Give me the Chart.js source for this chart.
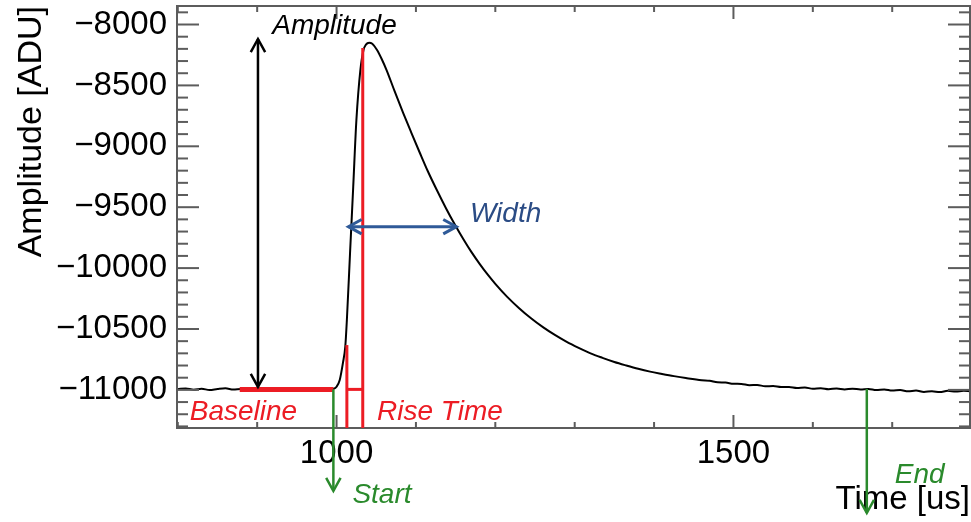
<!DOCTYPE html>
<html>
<head>
<meta charset="utf-8">
<script src="https://cdn.jsdelivr.net/npm/chart.js@4"></script>
<style>
  body { margin: 0; background: #fff; }
  #wrap { width: 971px; height: 522px; }
</style>
</head>
<body>
<div id="wrap"><canvas id="pulseChart" width="971" height="522"></canvas></div>
<script>
// waveform (time in us, amplitude in ADU)
const times = [
    800, 810, 820, 830, 840, 850, 860, 870, 880, 890,
    900, 910, 920, 930, 940, 950, 960, 970, 980, 990,
    996, 1000, 1004, 1008, 1011, 1013, 1017, 1021, 1025, 1030,
    1034, 1037, 1041, 1045, 1051, 1057, 1063, 1073, 1084, 1094,
    1105, 1115, 1126, 1138, 1149, 1160, 1170, 1180, 1190, 1200,
    1215, 1230, 1245, 1260, 1275, 1290, 1305, 1320, 1335, 1350,
    1365, 1380, 1395, 1410, 1425, 1440, 1460, 1470, 1480, 1490,
    1500, 1510, 1520, 1530, 1540, 1550, 1560, 1570, 1580, 1590,
    1600, 1610, 1620, 1630, 1640, 1650, 1660, 1670, 1680, 1690,
    1700, 1710, 1720, 1730, 1740, 1750, 1760, 1770, 1780, 1790, 1798
];
const amplitudes = [
    -10994, -10988, -10998, -10990, -11002, -10993, -10987, -10997, -10992, -11000,
    -10989, -10996, -10986, -10994, -10999, -10990, -10996, -10988, -10993, -10997,
    -10992, -10974, -10919, -10780, -10645, -10426, -9876, -9332, -8784, -8374,
    -8209, -8165, -8149, -8158, -8209, -8285, -8374, -8545, -8727, -8885,
    -9055, -9205, -9355, -9510, -9642, -9765, -9869, -9963, -10050, -10129,
    -10236, -10329, -10412, -10485, -10549, -10606, -10655, -10700, -10737, -10771,
    -10800, -10827, -10850, -10869, -10887, -10903, -10921, -10925, -10938, -10940,
    -10950, -10951, -10961, -10960, -10970, -10969, -10977, -10976, -10984, -10981,
    -10990, -10986, -10994, -10989, -10996, -10990, -10997, -10992, -11001, -10996,
    -11005, -11002, -11012, -11006, -11017, -11011, -11018, -11008, -11014, -11007, -11011
];
const xTickLabels = [1000, 1500];
const yTickLabels = [-8000, -8500, -9000, -9500, -10000, -10500, -11000];

// pulse features marked on the plot
const baselineLevel = -10996;
const baselineSpan = [878, 996];
const amplitudeTime = 901;
const amplitudeSpan = [-8119, -10976];
const riseTimes = [1013, 1033];
const riseTops = [-10632, -8193];
const widthLevel = -9660;
const widthSpan = [1015, 1151];
const startTime = 996;
const endTime = 1668;

const X_MIN = 799, X_MAX = 1798;
const Y_MIN = -11313, Y_MAX = -7848;
const FONT = '"Liberation Sans", Arial, Helvetica, sans-serif';
const RED = '#ec1c24';
const GREEN = '#2a8a2c';
const BLUE = '#2f5a98';

// tick marks every 100 inside the range
function tickValues(min, max) {
    const out = [];
    for (let v = Math.ceil(min / 100) * 100; v <= max; v += 100) out.push({ value: v });
    return out;
}

function line(ctx, x1, y1, x2, y2) {
    ctx.beginPath();
    ctx.moveTo(x1, y1);
    ctx.lineTo(x2, y2);
    ctx.stroke();
}

function head(ctx, tx, ty, dx, dy) {
    const ang = Math.atan2(dy, dx);
    const size = 15;
    ctx.beginPath();
    ctx.moveTo(tx - size * Math.cos(ang - 0.5), ty - size * Math.sin(ang - 0.5));
    ctx.lineTo(tx, ty);
    ctx.lineTo(tx - size * Math.cos(ang + 0.5), ty - size * Math.sin(ang + 0.5));
    ctx.stroke();
}

function label(ctx, text, x, y, color) {
    ctx.font = 'italic 28px ' + FONT;
    ctx.fillStyle = color;
    ctx.textAlign = 'left';
    ctx.textBaseline = 'alphabetic';
    ctx.fillText(text, x, y);
}

// ROOT style frame with ticks on all four sides, pointing inwards
const frameTicks = {
    id: 'frameTicks',
    afterDatasetsDraw(chart) {
        const ctx = chart.ctx;
        const a = chart.chartArea;
        const xs = chart.scales.x;
        const ys = chart.scales.y;
        ctx.save();
        ctx.strokeStyle = '#5c5c5c';
        ctx.lineWidth = 2;
        ctx.strokeRect(a.left, a.top, a.right - a.left, a.bottom - a.top);
        xs.ticks.forEach(t => {
            const p = xs.getPixelForValue(t.value);
            const len = t.value % 500 === 0 ? 13 : 6;
            line(ctx, p, a.bottom, p, a.bottom - len);
            line(ctx, p, a.top, p, a.top + len);
        });
        ys.ticks.forEach(t => {
            const p = ys.getPixelForValue(t.value);
            const len = t.value % 500 === 0 ? 22 : 11;
            line(ctx, a.left, p, a.left + len, p);
            line(ctx, a.right, p, a.right - len, p);
        });
        ctx.restore();
    }
};

const annotations = {
    id: 'annotations',
    afterDraw(chart) {
        const ctx = chart.ctx;
        const a = chart.chartArea;
        const X = v => chart.scales.x.getPixelForValue(v);
        const Y = v => chart.scales.y.getPixelForValue(v);
        ctx.save();
        ctx.lineCap = 'butt';

        // baseline
        ctx.strokeStyle = RED;
        ctx.lineWidth = 5;
        line(ctx, X(baselineSpan[0]), Y(baselineLevel), X(baselineSpan[1]), Y(baselineLevel));

        // rise time
        ctx.lineWidth = 3;
        line(ctx, X(riseTimes[0]), Y(riseTops[0]), X(riseTimes[0]), a.bottom);
        line(ctx, X(riseTimes[1]), Y(riseTops[1]), X(riseTimes[1]), a.bottom);
        line(ctx, X(riseTimes[0]), Y(baselineLevel), X(riseTimes[1]), Y(baselineLevel));

        // amplitude
        ctx.strokeStyle = '#000';
        ctx.lineWidth = 2.5;
        const ax = X(amplitudeTime);
        line(ctx, ax, Y(amplitudeSpan[0]), ax, Y(amplitudeSpan[1]));
        head(ctx, ax, Y(amplitudeSpan[0]), 0, -1);
        head(ctx, ax, Y(amplitudeSpan[1]), 0, 1);

        // width
        ctx.strokeStyle = BLUE;
        ctx.lineWidth = 3;
        const wy = Y(widthLevel);
        line(ctx, X(widthSpan[0]), wy, X(widthSpan[1]), wy);
        head(ctx, X(widthSpan[0]), wy, -1, 0);
        head(ctx, X(widthSpan[1]), wy, 1, 0);

        // start / end, pointing out below the axis
        ctx.strokeStyle = GREEN;
        ctx.lineWidth = 2.5;
        const sx = X(startTime);
        line(ctx, sx, Y(baselineLevel), sx, a.bottom + 63);
        head(ctx, sx, a.bottom + 63, 0, 1);
        const ex = X(endTime);
        line(ctx, ex, Y(-10993), ex, a.bottom + 85);
        head(ctx, ex, a.bottom + 85, 0, 1);

        label(ctx, 'Amplitude', X(919), Y(-8080), '#000');
        label(ctx, 'Width', X(1168), Y(-9619), '#2b4c85');
        label(ctx, 'Baseline', X(815), Y(-11247), RED);
        label(ctx, 'Rise Time', X(1051), Y(-11247), RED);
        label(ctx, 'Start', sx + 19, a.bottom + 75, GREEN);
        label(ctx, 'End', ex + 28, a.bottom + 55, GREEN);
        ctx.restore();
    }
};

new Chart(document.getElementById('pulseChart').getContext('2d'), {
    type: 'line',
    plugins: [frameTicks, annotations],
    data: {
        datasets: [{
            data: times.map((t, i) => ({ x: t, y: amplitudes[i] })),
            borderColor: '#000',
            borderWidth: 2,
            pointRadius: 0,
            cubicInterpolationMode: 'monotone',
            fill: false
        }]
    },
    options: {
        responsive: false,
        animation: false,
        layout: { padding: { top: 6, right: 1, left: 0, bottom: 0 } },
        plugins: { legend: { display: false }, tooltip: { enabled: false } },
        scales: {
            x: {
                type: 'linear',
                min: X_MIN,
                max: X_MAX,
                grid: { display: false, drawTicks: false },
                border: { display: false },
                afterBuildTicks(scale) { scale.ticks = tickValues(X_MIN, X_MAX); },
                ticks: {
                    autoSkip: false,
                    maxRotation: 0,
                    padding: 6,
                    color: '#000',
                    font: { family: FONT, size: 33 },
                    callback: v => xTickLabels.includes(v) ? String(v) : ''
                },
                title: {
                    display: true,
                    text: 'Time [us]',
                    align: 'end',
                    color: '#000',
                    font: { family: FONT, size: 33 },
                    padding: { top: 0, bottom: 2 }
                },
                afterFit(scale) {
                    scale.height = 94;
                    scale.paddingLeft = 0;
                    scale.paddingRight = 0;
                }
            },
            y: {
                type: 'linear',
                min: Y_MIN,
                max: Y_MAX,
                grid: { display: false, drawTicks: false },
                border: { display: false },
                afterBuildTicks(scale) { scale.ticks = tickValues(Y_MIN, Y_MAX); },
                ticks: {
                    autoSkip: false,
                    padding: 10,
                    color: '#000',
                    font: { family: FONT, size: 33 },
                    callback: v => yTickLabels.includes(v) ? '\u2212' + Math.abs(v) : ''
                },
                title: {
                    display: true,
                    text: 'Amplitude [ADU]',
                    align: 'end',
                    color: '#000',
                    font: { family: FONT, size: 34 },
                    padding: { top: 11, bottom: 0 }
                },
                afterFit(scale) {
                    scale.width = 177;
                    scale.paddingTop = 0;
                    scale.paddingBottom = 0;
                }
            }
        }
    }
});
</script>
</body>
</html>
